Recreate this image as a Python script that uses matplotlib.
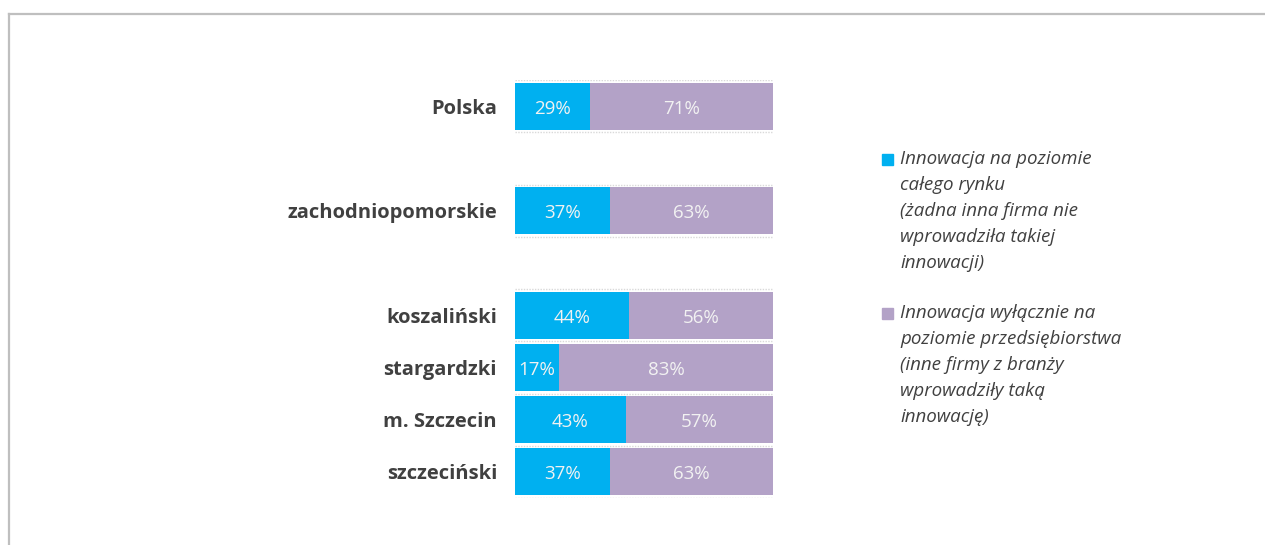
import matplotlib
matplotlib.use("Agg")
import matplotlib.pyplot as plt
from matplotlib.lines import Line2D
from matplotlib.patches import Rectangle

# ---- data ----
categories = ["Polska", "", "zachodniopomorskie", "", "koszaliński",
              "stargardzki", "m. Szczecin", "szczeciński"]
market_level = [29, None, 37, None, 44, 17, 43, 37]
firm_level = [71, None, 63, None, 56, 83, 57, 63]
legend_labels = [
    ["Innowacja na poziomie", "całego rynku", "(żadna inna firma nie",
     "wprowadziła takiej", "innowacji)"],
    ["Innowacja wyłącznie na", "poziomie przedsiębiorstwa", "(inne firmy z branży",
     "wprowadziły taką", "innowację)"],
]
colors = ["#00B0F0", "#B3A2C7"]

W, H = 1265, 545
fig = plt.figure(figsize=(W / 100, H / 100), dpi=100)
ax = fig.add_axes([515 / W, (H - 498) / H, 258 / W, 418 / H])

ypos = [i for i, v in enumerate(market_level) if v is not None]
m_vals = [market_level[i] for i in ypos]
f_vals = [firm_level[i] for i in ypos]

ax.barh(ypos, m_vals, height=0.9, color=colors[0], edgecolor="none", zorder=3)
ax.barh(ypos, f_vals, left=m_vals, height=0.9, color=colors[1], edgecolor="none", zorder=3)

for y, m, f in zip(ypos, m_vals, f_vals):
    ax.text(m / 2, y + 0.05, f"{m}%", ha="center", va="center", color="#F2F2F2",
            fontsize=13.5, family="Open Sans", zorder=4)
    ax.text(m + f / 2, y + 0.05, f"{f}%", ha="center", va="center", color="#F2F2F2",
            fontsize=13.5, family="Open Sans", zorder=4)

ax.set_xlim(0, 100)
ax.set_ylim(len(categories) - 0.5, -0.5)
ax.set_yticks(range(len(categories)))
ax.set_yticklabels(categories, fontsize=14.5, fontweight="bold", color="#404040",
                   family="Open Sans")
ax.tick_params(axis="y", length=0, pad=13)
ax.set_xticks([])
ax.set_yticks([i - 0.5 for i in range(len(categories) + 1)], minor=True)
ax.tick_params(axis="y", which="minor", length=0)
ax.grid(axis="y", which="minor", color="#D9D9D9", linestyle=(0, (1, 1)), linewidth=1, zorder=0)
ax.grid(axis="y", which="major", visible=False)
for s in ax.spines.values():
    s.set_visible(False)

# ---- frame ----
ftop = 1 - 14 / H
fleft = 8.5 / W
fig.add_artist(Line2D([fleft, 1], [ftop, ftop], transform=fig.transFigure,
                      color="#BFBFBF", linewidth=1.6))
fig.add_artist(Line2D([fleft, fleft], [0, ftop], transform=fig.transFigure,
                      color="#BFBFBF", linewidth=1.6))

# ---- legend ----
line_h = 26
starts = [159, 313]
for lines, c, y0 in zip(legend_labels, colors, starts):
    fig.add_artist(Rectangle((882 / W, 1 - (y0 + 6) / H), 11 / W, 11 / H,
                             transform=fig.transFigure, color=c))
    for k, t in enumerate(lines):
        fig.text(900 / W, 1 - (y0 + k * line_h) / H, t, ha="left", va="center",
                 fontsize=13.5, style="italic", color="#404040", family="Open Sans")

fig.savefig("out.png", dpi=100)
